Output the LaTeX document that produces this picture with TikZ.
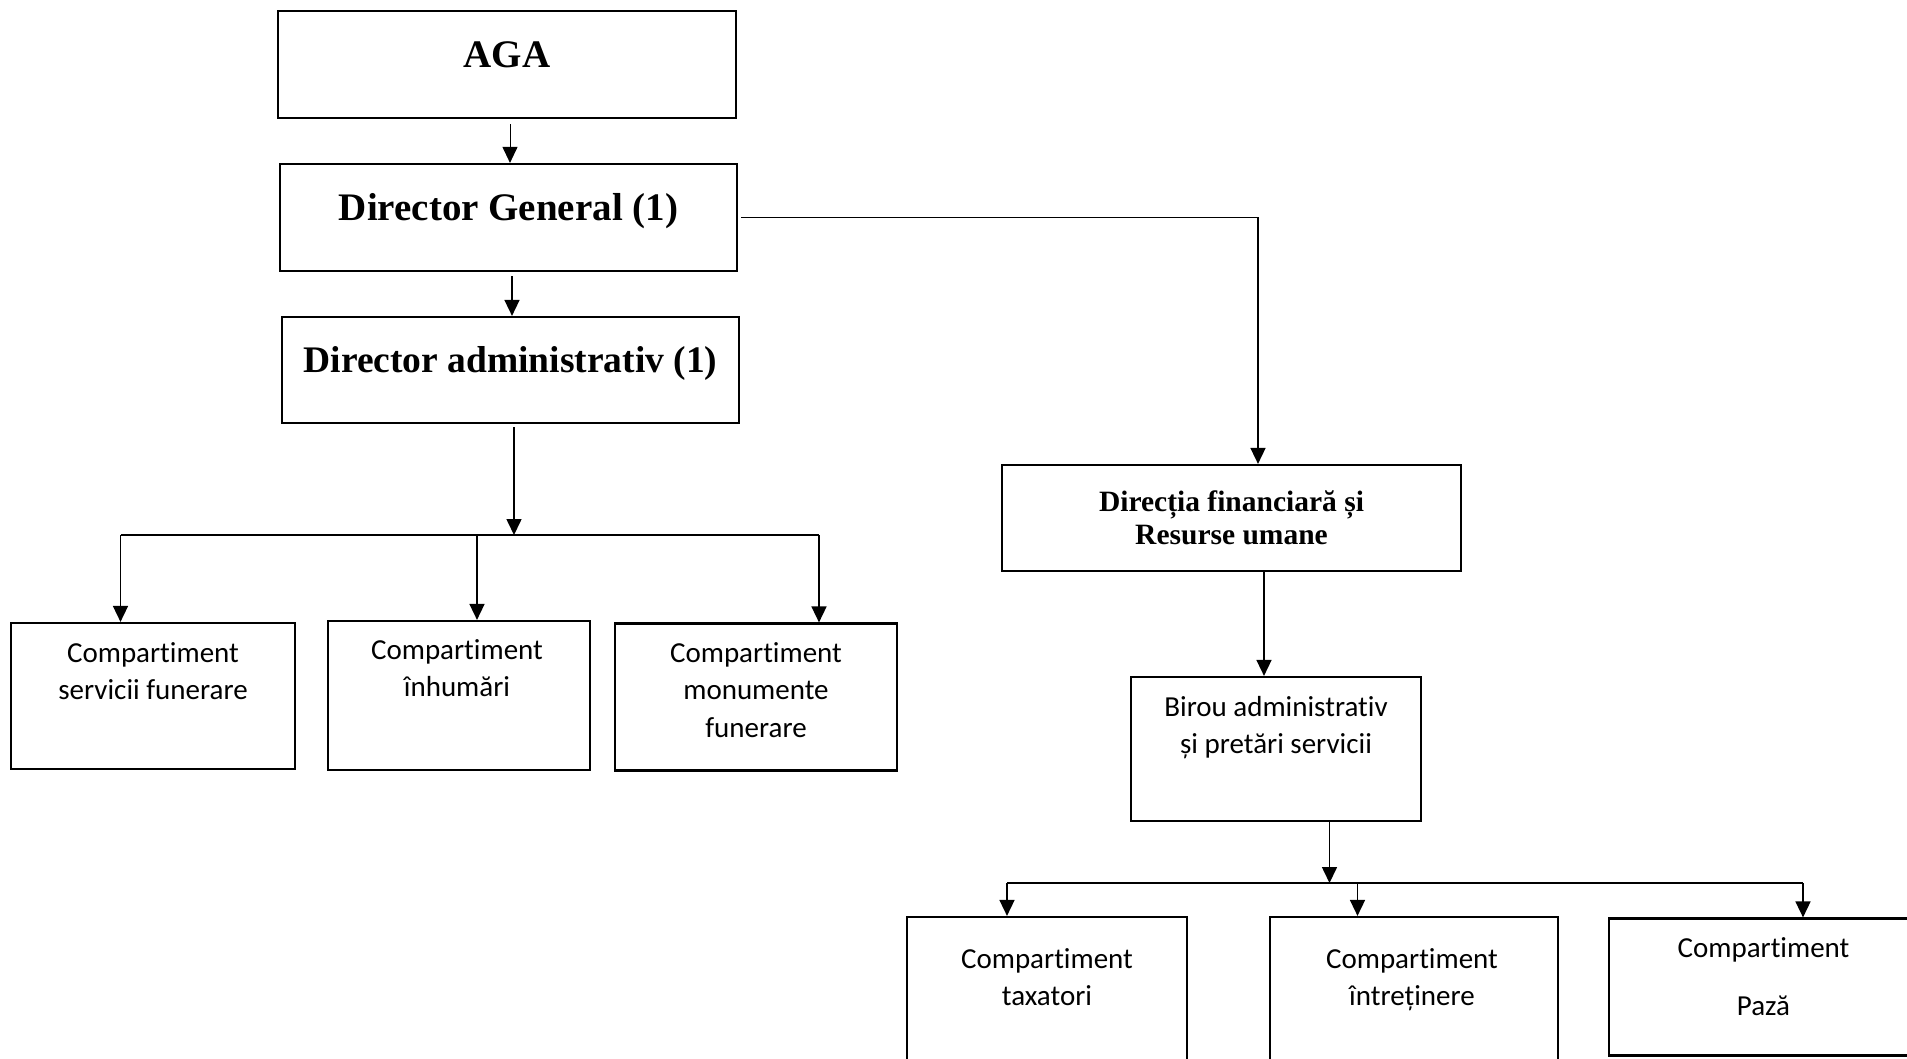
\documentclass[tikz,border=0pt]{standalone}
\usepackage{fontspec}
\setmainfont{Liberation Serif}
\newfontfamily\sansbox[Ligatures=NoCommon]{Carlito}
\usetikzlibrary{arrows.meta}

\begin{document}
\begin{tikzpicture}[x=1pt,y=1pt,
    box/.style={draw, line width=2.2pt, inner sep=0pt},
    big/.style={font=\fontsize{39}{44}\selectfont\bfseries, inner sep=0pt},
    mid/.style={font=\fontsize{29.5}{33}\selectfont\bfseries, align=center, inner sep=0pt},
    small/.style={font=\sansbox\fontsize{29}{37.5}\selectfont, align=center, inner sep=0pt},
    line/.style={line width=1.6pt},
    link/.style={line width=1.6pt, -{Triangle[width=15pt,length=16pt]}}]
    \useasboundingbox (0,0) rectangle (1907,-1058);
    \clip (0,0) rectangle (1907,-1058);

    % boxes
    \node[box, minimum width=458pt, minimum height=107pt] (aga) at (507,-64.5) {};
    \node[box, minimum width=457pt, minimum height=107pt] (dg) at (508.5,-217.5) {};
    \node[box, minimum width=457pt, minimum height=106pt] (da) at (510.5,-370) {};
    \node[box, minimum width=284pt, minimum height=146pt] (sf) at (153,-696) {};
    \node[box, minimum width=262pt, minimum height=149pt] (inh) at (459,-695.5) {};
    \node[box, minimum width=282pt, minimum height=147pt] (mon) at (756,-697) {};
    \node[box, minimum width=459pt, minimum height=106pt] (dfru) at (1231.5,-518) {};
    \node[box, minimum width=290pt, minimum height=144pt] (birou) at (1276,-749) {};
    \node[box, minimum width=280pt, minimum height=163pt] (tax) at (1047,-998.5) {};
    \node[box, minimum width=288pt, minimum height=163pt] (intr) at (1414,-998.5) {};
    \node[box, minimum width=321pt, minimum height=137pt] (paza) at (1769.5,-987) {};

    % texts (base = last line)
    \node[big, anchor=base] (agat) at ([yshift=-57.5pt]aga.north) {AGA};
    \node[big, anchor=base] (dgt) at ([yshift=-57.5pt]dg.north) {Director General (1)};
    \node[big, anchor=base, font=\fontsize{37.5}{44}\selectfont\bfseries] (dat) at ([yshift=-57pt]da.north) {Director administrativ (1)};
    \node[mid, anchor=base] (dfrut) at ([yshift=-80.5pt]dfru.north) {Direcția financiară și\\Resurse umane};
    \node[small, anchor=base] (sft) at ([yshift=-78pt]sf.north) {Compartiment\\servicii funerare};
    \node[small, anchor=base] (inht) at ([yshift=-77pt,xshift=-2pt]inh.north) {Compartiment\\înhumări};
    \node[small, anchor=base] (mont) at ([yshift=-115pt]mon.north) {Compartiment\\monumente\\funerare};
    \node[small, anchor=base] (birout) at ([yshift=-78pt]birou.north) {Birou administrativ\\și pretări servicii};
    \node[small, anchor=base] (taxt) at ([yshift=-90pt]tax.north) {Compartiment\\taxatori};
    \node[small, anchor=base] (intrt) at ([yshift=-90pt,xshift=-2pt]intr.north) {Compartiment\\întreținere};
    \node[small, anchor=base] (pazat) at ([yshift=-98.5pt,xshift=-6pt]paza.north) {Compartiment\\[21pt]Pază};

    % bars
    \coordinate (lb) at (514,-535);
    \coordinate (l1) at (120.5,-535);
    \coordinate (l2) at (477,-535);
    \coordinate (l3) at (819,-535);
    \coordinate (rb) at (1329.5,-883);
    \coordinate (r1) at (1007,-883);
    \coordinate (r2) at (1357.5,-883);
    \coordinate (r3) at (1803,-883);

    \draw[link, line width=1pt, shorten <=5pt] ([xshift=3pt]aga.south) -- ([xshift=1.5pt]dg.north);
    \draw[link, shorten <=4pt] ([xshift=3.5pt]dg.south) -- ([xshift=1.5pt]da.north);
    \draw[link, shorten <=3pt] ([xshift=3.5pt]da.south) -- (lb);
    \draw[line] (l1) -- (l3);
    \draw[link] (l1) -- (l1 |- sf.north);
    \draw[link] (l2) -- (l2 |- inh.north);
    \draw[link] (l3) -- (l3 |- mon.north);

    \draw[link, shorten <=3pt] (dg.east) -| ([xshift=26.5pt]dfru.north);
    \draw[link] ([xshift=32.5pt]dfru.south) -- ([xshift=-12pt]birou.north);
    \draw[link] ([xshift=53.5pt]birou.south) -- (rb);
    \draw[line] (r1) -- (r3);
    \draw[link] (r1) -- (r1 |- tax.north);
    \draw[link] (r2) -- (r2 |- intr.north);
    \draw[link] (r3) -- (r3 |- paza.north);
\end{tikzpicture}
\end{document}
